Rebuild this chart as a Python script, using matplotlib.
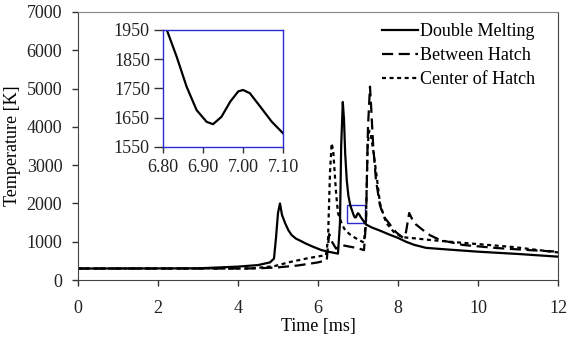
from matplotlib import pyplot as plt
from matplotlib.patches import Rectangle
import numpy as np

plt.rcParams['font.family'] = ['Liberation Serif', 'DejaVu Serif']
plt.rcParams['font.size'] = 13

# Double Melting (solid)
t_double = [0, 3.0, 4.0, 4.5, 4.8, 4.9, 4.95, 5.0, 5.05, 5.1, 5.18, 5.26, 5.34, 5.45, 5.55,
            5.68, 5.85, 6.09, 6.3, 6.5, 6.55, 6.58, 6.62, 6.65, 6.68, 6.72, 6.76, 6.81, 6.83,
            6.86, 6.89, 6.92, 6.95, 6.98, 7.0, 7.03, 7.07, 7.1, 7.2, 7.35, 7.55, 7.8, 8.0, 8.2,
            8.4, 8.7, 9.2, 10.0, 11.0, 12.0]
T_double = [300, 305, 350, 390, 460, 560, 1100, 1750, 2000, 1700, 1480, 1300, 1175, 1080, 1030,
            960, 880, 780, 730, 690, 1500, 3500, 4650, 4200, 3300, 2600, 2200, 1940, 1880,
            1790, 1700, 1635, 1640, 1715, 1745, 1715, 1640, 1597, 1450, 1370, 1290, 1180, 1100, 1000,
            920, 840, 800, 740, 680, 610]

# Between Hatch (dashed)
t_between = [0, 4.0, 4.5, 5.0, 5.5, 6.0, 6.22, 6.25, 6.28, 6.35, 6.45, 6.6, 6.8, 7.0, 7.15,
             7.2, 7.25, 7.3, 7.33, 7.38, 7.45, 7.55, 7.65, 7.8, 7.95, 8.13, 8.2, 8.28, 8.35,
             8.45, 8.63, 8.8, 9.05, 9.63, 10.47, 11.3, 12.0]
T_between = [300, 300, 305, 330, 380, 460, 520, 900, 1200, 1000, 820, 910, 870, 830, 780,
             1500, 4000, 5050, 4500, 3500, 2600, 1950, 1650, 1450, 1250, 1100, 1250, 1750, 1600,
             1450, 1300, 1170, 1045, 915, 835, 780, 740]

# Center of Hatch (dotted)
t_center = [0, 4.3, 4.9, 5.3, 5.75, 6.2, 6.25, 6.3, 6.34, 6.38, 6.45, 6.5, 6.6, 6.68, 6.8,
            6.93, 7.05, 7.15, 7.2, 7.24, 7.28, 7.32, 7.38, 7.48, 7.55, 7.7, 7.9, 8.1, 8.5, 8.8,
            9.63, 10.9, 12.0]
T_center = [300, 300, 360, 470, 570, 650, 1050, 2800, 3570, 3390, 2300, 1750, 1450, 1300, 1190,
            1100, 1030, 980, 1600, 3500, 3900, 3800, 3400, 2600, 2000, 1500, 1250, 1120, 1080, 1045,
            970, 860, 720]

# inset: double melting between 6.8 and 7.1 ms
t_inset = [6.809, 6.834, 6.859, 6.884, 6.909, 6.925, 6.946, 6.968, 6.988, 7.0, 7.017, 7.043,
           7.072, 7.10]
T_inset = [1952, 1859, 1756, 1676, 1636, 1628, 1653, 1705, 1740, 1745, 1734, 1688,
           1636, 1597]

fig = plt.figure(figsize=(5.71, 3.37), dpi=100)
ax = fig.add_axes([0.1366, 0.1691, 0.8406, 0.7953])

ax.plot(t_double, T_double, color='black', lw=1.6, label='Double Melting')
ax.plot(t_between, T_between, color='black', lw=1.6, dashes=(5, 2.5), label='Between Hatch')
ax.plot(t_center, T_center, color='black', lw=1.6, dashes=(1.8, 1.6), label='Center of Hatch')

ax.add_patch(Rectangle((6.72, 1480), 0.45, 480, fill=False, edgecolor='#2a2ad0', lw=1.0))

ax.set_xlim(0, 12)
ax.set_ylim(0, 7000)
ax.set_xticks(np.arange(0, 13, 2))
ax.set_yticks(np.arange(0, 7001, 1000))
ax.set_xlabel('Time [ms]', labelpad=1)
ax.set_ylabel('Temperature [K]', labelpad=4)
ax.tick_params(direction='out', length=4.3, width=1, colors='#333333', labelcolor='#222222')
ax.tick_params(axis='x', pad=10)
ax.tick_params(axis='y', pad=7)
for s in ['left', 'bottom', 'right']:
    ax.spines[s].set_color('#444444')
ax.spines['top'].set_color('#888888')

ax.legend(loc='upper right', bbox_to_anchor=(0.975, 1.0), frameon=False, handlelength=2.0,
          handletextpad=0.1, labelspacing=0.4, borderaxespad=0.2)

ins = fig.add_axes([0.2855, 0.5638, 0.2102, 0.3472])
ins.plot(t_inset, T_inset, color='black', lw=1.6)
ins.set_xlim(6.80, 7.10)
ins.set_ylim(1550, 1950)
ins.set_xticks([6.80, 6.90, 7.00, 7.10])
ins.set_xticklabels(['6.80', '6.90', '7.00', '7.10'])
ins.set_yticks([1550, 1650, 1750, 1850, 1950])
ins.tick_params(axis='y', direction='out', length=6.5, width=1, pad=3, colors='#333333', labelcolor='#222222')
ins.tick_params(axis='x', direction='out', length=4, width=1, pad=5, colors='#333333', labelcolor='#222222')
for s in ins.spines.values():
    s.set_color('#2a2ad0')
    s.set_linewidth(1.0)

fig.savefig('out.png', dpi=100)
